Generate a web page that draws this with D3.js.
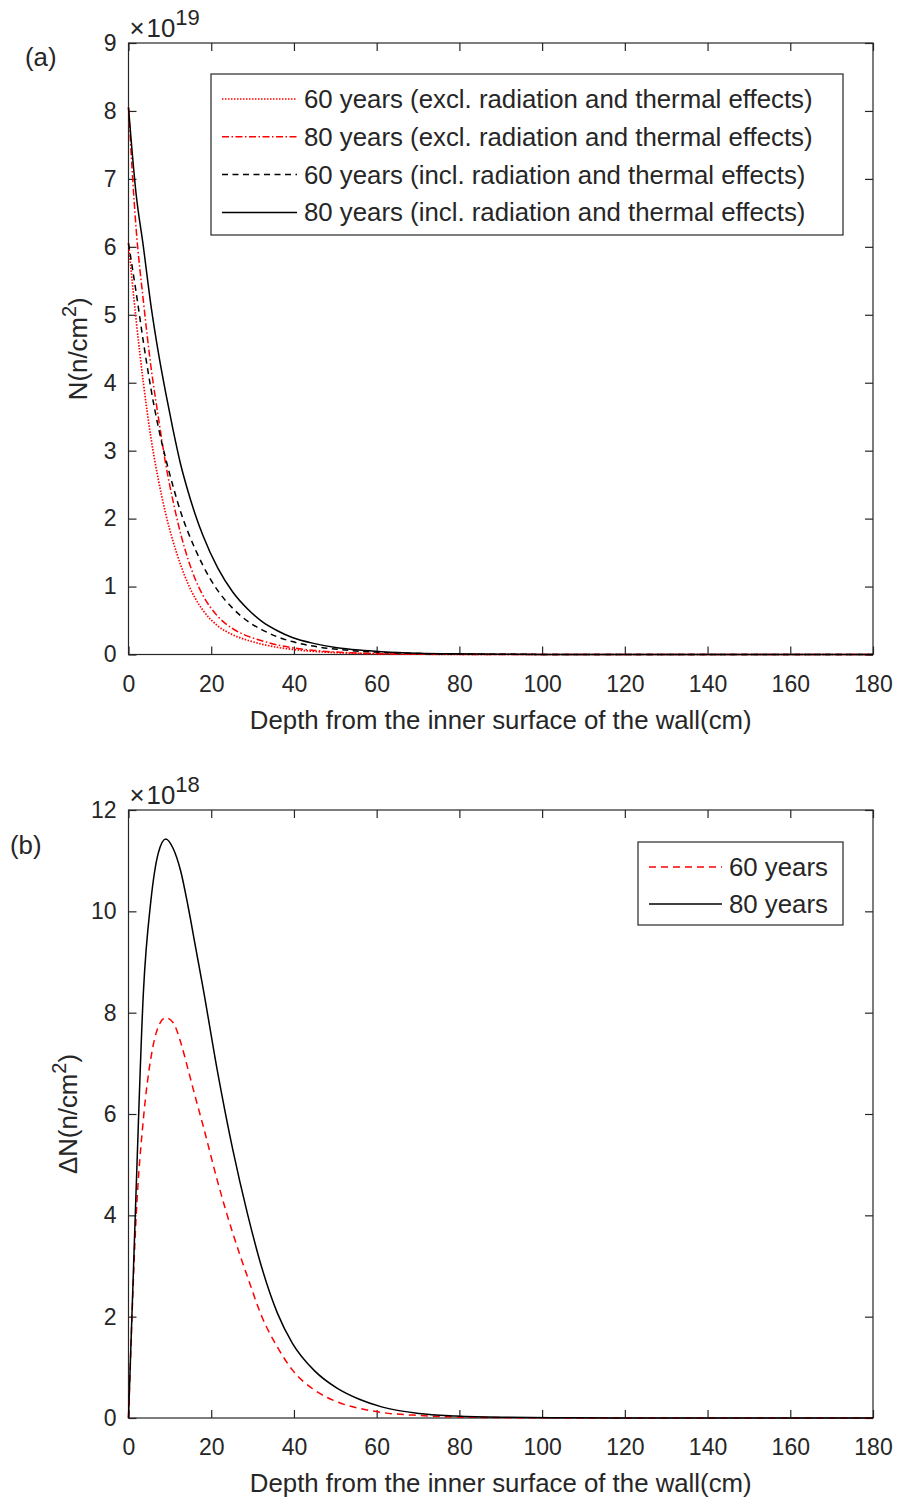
<!DOCTYPE html>
<html>
<head>
<meta charset="utf-8">
<script src="https://cdn.jsdelivr.net/npm/d3@7"></script>
<style>
  body { margin: 0; background: #fff; }
  text { font-family: "Liberation Sans", Arial, Helvetica, sans-serif; fill: #262626; }
</style>
</head>
<body>
<svg id="chart" width="899" height="1498"></svg>
<script>
// depth from inner surface (cm)
const depth = [0, 1.8, 3.6, 5.4, 7.2, 9, 10.8, 12.6, 14.4, 16.2, 18, 21.6, 25.2, 28.8, 32.4, 36, 39.6, 45, 50.4, 55.8, 61.2, 70.2, 79.2, 90, 108, 126, 144, 162, 180];

// panel (a): N, units of 1e19 n/cm^2
const n60Excl = [6.05, 4.95, 4.0, 3.2, 2.58, 2.07, 1.66, 1.32, 1.04, 0.82, 0.65, 0.42, 0.29, 0.21, 0.15, 0.105, 0.075, 0.045, 0.027, 0.016, 0.01, 0.004, 0.002, 0.001, 0, 0, 0, 0, 0];
const n80Excl = [8.05, 6.3, 5.2, 4.25, 3.5, 2.8, 2.25, 1.78, 1.4, 1.1, 0.87, 0.56, 0.38, 0.27, 0.2, 0.14, 0.1, 0.06, 0.035, 0.02, 0.012, 0.005, 0.002, 0.001, 0, 0, 0, 0, 0];
const n60Incl = [6.05, 5.35, 4.6, 3.92, 3.35, 2.88, 2.47, 2.1, 1.8, 1.54, 1.31, 0.94, 0.68, 0.49, 0.36, 0.26, 0.19, 0.12, 0.077, 0.049, 0.031, 0.014, 0.007, 0.003, 0.001, 0, 0, 0, 0];
const n80Incl = [8.05, 6.8, 6.0, 5.15, 4.45, 3.85, 3.3, 2.8, 2.4, 2.05, 1.75, 1.27, 0.92, 0.67, 0.48, 0.35, 0.25, 0.16, 0.1, 0.065, 0.042, 0.02, 0.01, 0.004, 0.001, 0.0003, 0, 0, 0];

// panel (b): delta N, units of 1e18 n/cm^2
const dn60 = [0, 3.9, 5.9, 7.1, 7.72, 7.9, 7.8, 7.42, 6.88, 6.32, 5.78, 4.65, 3.65, 2.78, 1.97, 1.4, 0.95, 0.55, 0.32, 0.19, 0.11, 0.05, 0.02, 0.008, 0.002, 0.0005, 0, 0, 0];
const dn80 = [0, 4.4, 8.4, 10.2, 11.15, 11.43, 11.24, 10.8, 10.1, 9.3, 8.5, 6.8, 5.3, 4.02, 2.92, 2.07, 1.48, 0.93, 0.59, 0.37, 0.22, 0.09, 0.04, 0.015, 0.004, 0.001, 0, 0, 0];

const xTickVals = [0, 20, 40, 60, 80, 100, 120, 140, 160, 180];
const yTicksA = [0, 1, 2, 3, 4, 5, 6, 7, 8, 9];
const yTicksB = [0, 2, 4, 6, 8, 10, 12];

const legendA = [
  "60 years (excl. radiation and thermal effects)",
  "80 years (excl. radiation and thermal effects)",
  "60 years (incl. radiation and thermal effects)",
  "80 years (incl. radiation and thermal effects)"
];
const legendB = ["60 years", "80 years"];

const xLabel = "Depth from the inner surface of the wall(cm)";

const axisColor = "#262626";
const tickFont = 23;
const labelFont = 25.8;
const svg = d3.select("#chart");

function drawPanel(p) {
  const x = d3.scaleLinear().domain([0, 180]).range([p.left, p.right]);
  const y = d3.scaleLinear().domain(p.yDomain).range([p.bottom, p.top]);
  const g = svg.append("g");
  const tick = 8;

  const styleAxis = (sel) => {
    sel.select(".domain").remove();
    sel.selectAll("line").attr("stroke", axisColor).attr("stroke-width", 1.2);
    sel.selectAll("text").attr("font-size", tickFont).attr("fill", axisColor)
      .style("font-family", "'Liberation Sans', Arial, sans-serif");
  };

  g.append("g").attr("transform", `translate(0,${p.bottom})`)
    .call(d3.axisBottom(x).tickValues(xTickVals).tickSize(-tick).tickPadding(21))
    .call(styleAxis);
  g.append("g").attr("transform", `translate(0,${p.top})`)
    .call(d3.axisTop(x).tickValues(xTickVals).tickSize(-tick).tickFormat(""))
    .call(styleAxis);
  g.append("g").attr("transform", `translate(${p.left},0)`)
    .call(d3.axisLeft(y).tickValues(p.yTicks).tickSize(-tick).tickPadding(12))
    .call(styleAxis);
  g.append("g").attr("transform", `translate(${p.right},0)`)
    .call(d3.axisRight(y).tickValues(p.yTicks).tickSize(-tick).tickFormat(""))
    .call(styleAxis);

  g.append("rect")
    .attr("x", p.left).attr("y", p.top)
    .attr("width", p.right - p.left).attr("height", p.bottom - p.top)
    .attr("fill", "none").attr("stroke", axisColor).attr("stroke-width", 1.2);

  const line = d3.line().curve(d3.curveMonotoneX).x((d) => x(d[0])).y((d) => y(d[1]));
  p.series.forEach((s) => {
    g.append("path")
      .datum(depth.map((d, i) => [d, s.values[i]]))
      .attr("d", line)
      .attr("fill", "none")
      .attr("stroke", s.color)
      .attr("stroke-width", s.width || 1.5)
      .attr("stroke-dasharray", s.dash || null);
  });

  // exponent label
  const ex = g.append("text").attr("x", p.left + 1).attr("y", p.top - 6).attr("font-size", labelFont);
  ex.append("tspan").text("\u00d7");
  ex.append("tspan").attr("dx", 2).text("10");
  ex.append("tspan").attr("dy", -12).attr("font-size", 22).text(p.exponent);

  // panel tag
  g.append("text").attr("x", p.tagX).attr("y", p.tagY).attr("font-size", labelFont).attr("fill", "#000").text(p.tag);

  // x label
  g.append("text")
    .attr("x", (p.left + p.right) / 2).attr("y", p.bottom + 74)
    .attr("text-anchor", "middle").attr("font-size", labelFont)
    .text(xLabel);

  // y label
  const yl = g.append("text")
    .attr("transform", `translate(${p.yLabelX},${(p.top + p.bottom) / 2}) rotate(-90)`)
    .attr("text-anchor", "middle").attr("font-size", labelFont);
  yl.append("tspan").text(p.yLabel);
  yl.append("tspan").attr("dy", -11).attr("font-size", 20).text("2");
  yl.append("tspan").attr("dy", 11).text(")");

  // legend
  const lg = p.legend;
  g.append("rect")
    .attr("x", lg.x).attr("y", lg.y).attr("width", lg.w).attr("height", lg.h)
    .attr("fill", "#fff").attr("stroke", axisColor).attr("stroke-width", 1.2);
  p.series.forEach((s, i) => {
    const cy = lg.y + lg.first + i * lg.step;
    g.append("line")
      .attr("x1", lg.x + 11).attr("x2", lg.x + 11 + lg.sample)
      .attr("y1", cy).attr("y2", cy)
      .attr("stroke", s.color).attr("stroke-width", s.width || 1.5)
      .attr("stroke-dasharray", s.dash || null);
    g.append("text")
      .attr("x", lg.x + 11 + lg.sample + 7).attr("y", cy + 9)
      .attr("font-size", labelFont).attr("fill", "#000")
      .text(lg.labels[i]);
  });
}

drawPanel({
  left: 128.5, right: 873, top: 43, bottom: 654.5,
  yDomain: [0, 9], yTicks: yTicksA, exponent: "19",
  tag: "(a)", tagX: 25, tagY: 66,
  yLabel: "N(n/cm", yLabelX: 87,
  series: [
    {values: n60Excl, color: "#ff0000", dash: "1.5,1.5", width: 1.7},
    {values: n80Excl, color: "#ff0000", dash: "7,2.5,1.5,2.5"},
    {values: n60Incl, color: "#000", dash: "6,4.5"},
    {values: n80Incl, color: "#000"}
  ],
  legend: {x: 211, y: 74, w: 632, h: 161, first: 25, step: 37.8, sample: 75, labels: legendA}
});

drawPanel({
  left: 128.5, right: 873, top: 810, bottom: 1418,
  yDomain: [0, 12], yTicks: yTicksB, exponent: "18",
  tag: "(b)", tagX: 10, tagY: 854,
  yLabel: "\u0394N(n/cm", yLabelX: 77,
  series: [
    {values: dn60, color: "#ff0000", dash: "7,5"},
    {values: dn80, color: "#000"}
  ],
  legend: {x: 638, y: 842, w: 205, h: 83, first: 25, step: 37, sample: 73, labels: legendB}
});
</script>
</body>
</html>
